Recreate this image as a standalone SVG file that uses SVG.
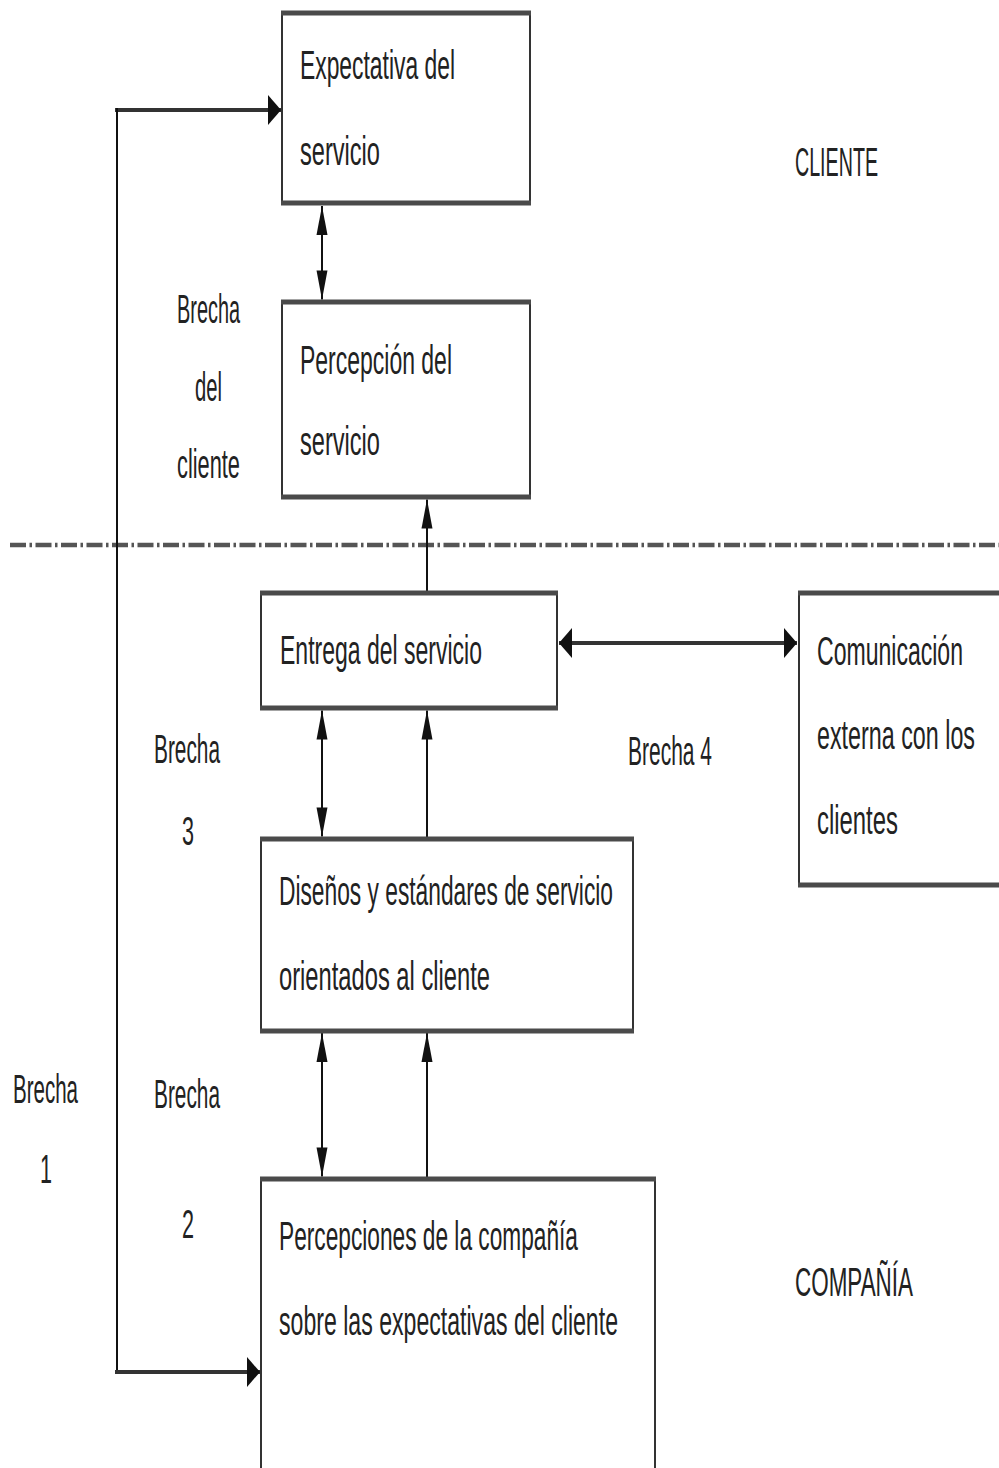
<svg xmlns="http://www.w3.org/2000/svg" width="999" height="1468" viewBox="0 0 999 1468">
<style>
.bx{fill:#fff;stroke:#333;stroke-width:2}
.hb{stroke:#4a4a4a;stroke-width:5;fill:none}
.t{font-family:"Liberation Sans",Arial,sans-serif;font-size:25px;fill:#222;transform:scale(1,1.6)}
.v{stroke:#111;stroke-width:2;fill:none}
.h{stroke:#333;stroke-width:4;fill:none}
</style>
<defs>
<marker id="av" markerUnits="userSpaceOnUse" markerWidth="30" markerHeight="12" refX="29" refY="6" orient="auto-start-reverse" overflow="visible">
<path d="M0,0.5 L29,6 L0,11.5 Z" fill="#111"/>
</marker>
<marker id="ah" markerUnits="userSpaceOnUse" markerWidth="14" markerHeight="30" refX="13" refY="15" orient="auto-start-reverse" overflow="visible">
<path d="M0,0 L13,15 L0,30 Z" fill="#111"/>
</marker>
</defs>
<rect width="999" height="1468" fill="#fff"/>

<g id="divider">
<line x1="10" y1="545" x2="999" y2="545" stroke="#555" stroke-width="4.5" stroke-dasharray="16 3.5 2.5 3.5"/>
</g>

<g id="connectors">
<line class="v" x1="322" y1="206" x2="322" y2="299.5" marker-start="url(#av)" marker-end="url(#av)"/>
<line class="v" x1="427" y1="592" x2="427" y2="499.5" marker-end="url(#av)"/>
<line class="h" x1="559" y1="643" x2="797" y2="643" marker-start="url(#ah)" marker-end="url(#ah)"/>
<line class="v" x1="322" y1="710.5" x2="322" y2="836.5" marker-start="url(#av)" marker-end="url(#av)"/>
<line class="v" x1="427" y1="838" x2="427" y2="710.5" marker-end="url(#av)"/>
<line class="v" x1="322" y1="1033" x2="322" y2="1176.5" marker-start="url(#av)" marker-end="url(#av)"/>
<line class="v" x1="427" y1="1178" x2="427" y2="1033" marker-end="url(#av)"/>
<line class="h" x1="115" y1="110" x2="281" y2="110" marker-end="url(#ah)"/>
<line class="v" x1="117" y1="108" x2="117" y2="1374"/>
<line class="h" x1="115" y1="1372" x2="260" y2="1372" marker-end="url(#ah)"/>
</g>

<g id="n-expectativa">
<rect class="bx" x="282" y="13" width="248" height="190"/>
<line class="hb" x1="281" y1="13" x2="531" y2="13"/>
<line class="hb" x1="281" y1="203" x2="531" y2="203"/>
<text class="t" x="300" y="49.375" textLength="155" lengthAdjust="spacingAndGlyphs">Expectativa del</text>
<text class="t" x="300" y="103.125" textLength="80" lengthAdjust="spacingAndGlyphs">servicio</text>
</g>

<g id="n-percepcion">
<rect class="bx" x="282" y="302" width="248" height="195"/>
<line class="hb" x1="281" y1="302" x2="531" y2="302"/>
<line class="hb" x1="281" y1="497" x2="531" y2="497"/>
<text class="t" x="300" y="233.75" textLength="152" lengthAdjust="spacingAndGlyphs">Percepción del</text>
<text class="t" x="300" y="284.375" textLength="80" lengthAdjust="spacingAndGlyphs">servicio</text>
</g>

<g id="n-entrega">
<rect class="bx" x="261" y="593" width="296" height="115"/>
<line class="hb" x1="260" y1="593" x2="558" y2="593"/>
<line class="hb" x1="260" y1="708" x2="558" y2="708"/>
<text class="t" x="280" y="415" textLength="202" lengthAdjust="spacingAndGlyphs">Entrega del servicio</text>
</g>

<g id="n-comunicacion">
<rect class="bx" x="799" y="593" width="220" height="292"/>
<line class="hb" x1="798" y1="593" x2="1000" y2="593"/>
<line class="hb" x1="798" y1="885" x2="1000" y2="885"/>
<text class="t" x="817" y="415.625" textLength="146" lengthAdjust="spacingAndGlyphs">Comunicación</text>
<text class="t" x="817" y="468.125" textLength="158" lengthAdjust="spacingAndGlyphs">externa con los</text>
<text class="t" x="817" y="521.25" textLength="81" lengthAdjust="spacingAndGlyphs">clientes</text>
</g>

<g id="n-disenos">
<rect class="bx" x="261" y="839" width="372" height="192"/>
<line class="hb" x1="260" y1="839" x2="634" y2="839"/>
<line class="hb" x1="260" y1="1031" x2="634" y2="1031"/>
<text class="t" x="279" y="565.625" textLength="334" lengthAdjust="spacingAndGlyphs">Diseños y estándares de servicio</text>
<text class="t" x="279" y="618.75" textLength="211" lengthAdjust="spacingAndGlyphs">orientados al cliente</text>
</g>

<g id="n-percepciones">
<rect class="bx" x="261" y="1179" width="394" height="300"/>
<line class="hb" x1="260" y1="1179" x2="656" y2="1179"/>
<text class="t" x="279" y="781.25" textLength="299" lengthAdjust="spacingAndGlyphs">Percepciones de la compañía</text>
<text class="t" x="279" y="834.375" textLength="339" lengthAdjust="spacingAndGlyphs">sobre las expectativas del cliente</text>
</g>

<g id="labels">
<text class="t" x="795" y="110" textLength="83" lengthAdjust="spacingAndGlyphs">CLIENTE</text>
<text class="t" x="795" y="810" textLength="118" lengthAdjust="spacingAndGlyphs">COMPAÑÍA</text>
<text class="t" x="177" y="201.875" textLength="63" lengthAdjust="spacingAndGlyphs">Brecha</text>
<text class="t" x="195" y="250.625" textLength="27" lengthAdjust="spacingAndGlyphs">del</text>
<text class="t" x="177" y="298.75" textLength="63" lengthAdjust="spacingAndGlyphs">cliente</text>
<text class="t" x="154" y="476.875" textLength="66" lengthAdjust="spacingAndGlyphs">Brecha</text>
<text class="t" x="182" y="528.125" textLength="12" lengthAdjust="spacingAndGlyphs">3</text>
<text class="t" x="628" y="478.125" textLength="84" lengthAdjust="spacingAndGlyphs">Brecha 4</text>
<text class="t" x="154" y="692.5" textLength="66" lengthAdjust="spacingAndGlyphs">Brecha</text>
<text class="t" x="182" y="773.75" textLength="12" lengthAdjust="spacingAndGlyphs">2</text>
<text class="t" x="13" y="689.375" textLength="65" lengthAdjust="spacingAndGlyphs">Brecha</text>
<text class="t" x="40" y="739.375" textLength="12" lengthAdjust="spacingAndGlyphs">1</text>
</g>
</svg>
